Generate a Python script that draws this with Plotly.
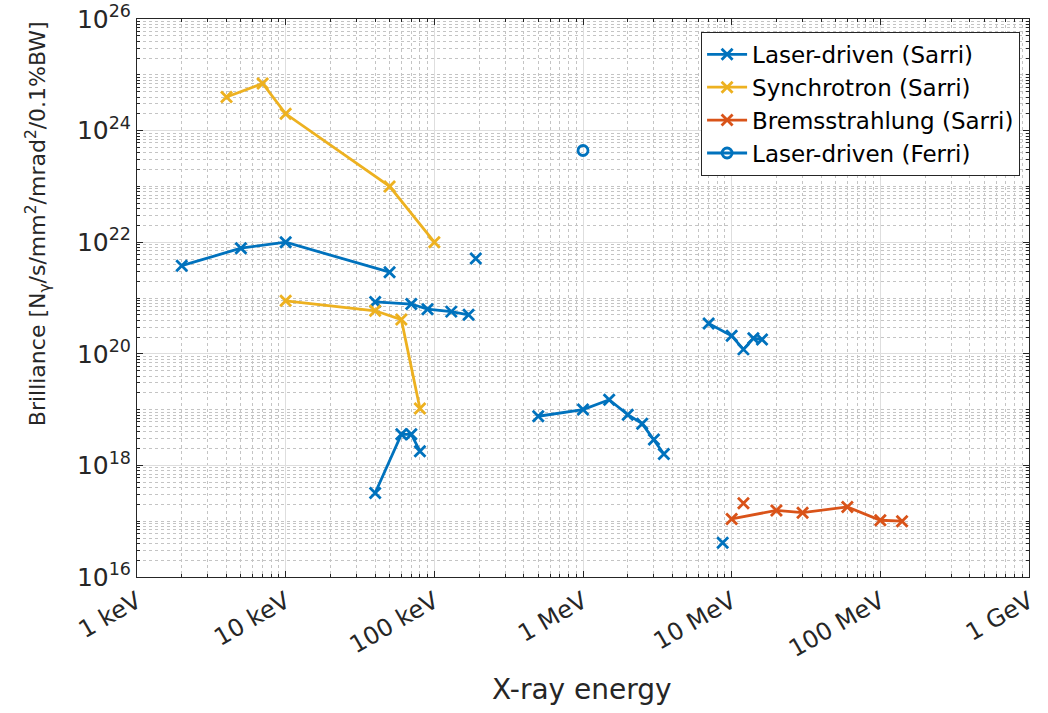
import plotly.graph_objects as go

# ---- data (energies in eV, brilliance in photons/s/mm^2/mrad^2/0.1%BW); None = gap
laser_sarri_E = [2e3, 5e3, 1e4, 5e4, None,
                 1.9e5, None,
                 4e4, 7e4, 9e4, 1.3e5, 1.7e5, None,
                 4e4, 6e4, 7e4, 8e4, None,
                 5e5, 1e6, 1.5e6, 2e6, 2.5e6, 3e6, 3.5e6, None,
                 7e6, 1e7, 1.2e7, 1.4e7, 1.6e7, None,
                 8.7e6]
laser_sarri_B = [3.8e21, 7.8e21, 1e22, 2.9e21, None,
                 5.1e21, None,
                 8.5e20, 7.8e20, 6.3e20, 5.7e20, 5.0e20, None,
                 3.2e17, 3.6e18, 3.6e18, 1.8e18, None,
                 7.6e18, 1.0e19, 1.5e19, 8.1e18, 5.6e18, 2.9e18, 1.6e18, None,
                 3.5e20, 2.1e20, 1.2e20, 1.9e20, 1.8e20, None,
                 4.1e16]

synchrotron_E = [4e3, 7e3, 1e4, 5e4, 1e5, None,
                 1e4, 4e4, 6e4, 8e4]
synchrotron_B = [4e24, 7e24, 2e24, 1e23, 1e22, None,
                 8.9e20, 5.9e20, 4.1e20, 1.05e19]

brems_E = [1e7, 2e7, 3e7, 6e7, 1e8, 1.4e8, None,
           1.2e7]
brems_B = [1.1e17, 1.56e17, 1.42e17, 1.8e17, 1.04e17, 1.0e17, None,
           2.1e17]

ferri_E = [1e6]
ferri_B = [4.4e23]

x_tickvals = [1e3, 1e4, 1e5, 1e6, 1e7, 1e8, 1e9]
x_ticktext = ["1 keV", "10 keV", "100 keV", "1 MeV", "10 MeV", "100 MeV", "1 GeV"]
y_exponents = [16, 18, 20, 22, 24, 26]

x_title = "X-ray energy"
y_title = "Brilliance [N<sub>γ</sub>/s/mm<sup>2</sup>/mrad<sup>2</sup>/0.1%BW]"

BLUE = "#0072BD"
YELLOW = "#EDB120"
ORANGE = "#D95319"
AX = "#262626"
FONT = "DejaVu Sans"

fig = go.Figure()


def add_series(x, y, name, color, symbol, msize):
    fig.add_trace(go.Scatter(
        x=x, y=y, name=name, mode="lines+markers",
        line=dict(color=color, width=2.8),
        marker=dict(symbol=symbol, size=msize, color=color,
                    line=dict(color=color, width=2.8)),
        connectgaps=False,
    ))


add_series(laser_sarri_E, laser_sarri_B, "Laser-driven (Sarri)", BLUE, "x-thin", 11)
add_series(synchrotron_E, synchrotron_B, "Synchrotron (Sarri)", YELLOW, "x-thin", 11)
add_series(brems_E, brems_B, "Bremsstrahlung (Sarri)", ORANGE, "x-thin", 11)
add_series(ferri_E, ferri_B, "Laser-driven (Ferri)", BLUE, "circle-open", 10)

x_minor = [float(m) * 10.0 ** e for e in range(3, 9) for m in range(2, 10)]
y_minor = [float(m) * 10.0 ** e for e in range(16, 26) for m in range(1, 10)
           if not (m == 1 and e % 2 == 0)]

fig.update_layout(
    width=1048, height=713,
    margin=dict(l=137, r=19, t=19, b=136, autoexpand=False),
    paper_bgcolor="white", plot_bgcolor="white",
    font=dict(family=FONT, color=AX),
    showlegend=True,
    legend=dict(
        x=0.99, y=0.977, xanchor="right", yanchor="top",
        bgcolor="white", bordercolor=AX, borderwidth=1,
        font=dict(family=FONT, size=23, color="#000000"),
        tracegroupgap=0, itemwidth=40,
    ),
    xaxis=dict(
        type="log", range=[3, 9], automargin=False,
        tickmode="array", tickvals=x_tickvals, ticktext=x_ticktext,
        tickangle=-30, tickfont=dict(family=FONT, size=24, color=AX),
        ticks="inside", ticklen=6, tickcolor=AX,
        showline=True, linecolor=AX, linewidth=1, mirror="allticks",
        showgrid=True, gridcolor="#dedede", gridwidth=1,
        zeroline=False,
        minor=dict(tickmode="array", tickvals=x_minor, ticks="inside", ticklen=3,
                   tickcolor=AX, showgrid=True, gridcolor="#c4c4c4", griddash="dot", gridwidth=1),
    ),
    yaxis=dict(
        type="log", range=[16, 26], automargin=False,
        tickmode="array", tickvals=[10.0 ** e for e in y_exponents],
        ticktext=["10<sup>%d</sup>" % e for e in y_exponents],
        tickfont=dict(family=FONT, size=25, color=AX),
        ticks="inside", ticklen=6, tickcolor=AX,
        showline=True, linecolor=AX, linewidth=1, mirror="allticks",
        showgrid=True, gridcolor="#dedede", gridwidth=1,
        zeroline=False,
        minor=dict(tickmode="array", tickvals=y_minor, ticks="inside", ticklen=3,
                   tickcolor=AX, showgrid=True, gridcolor="#c4c4c4", griddash="dot", gridwidth=1),
    ),
    annotations=[
        dict(text=x_title, xref="paper", yref="paper", x=0.499, y=-0.2025,
             xanchor="center", yanchor="middle", showarrow=False,
             font=dict(family=FONT, size=28, color=AX)),
        dict(text=y_title, xref="paper", yref="paper", x=-0.111, y=0.634,
             xanchor="center", yanchor="middle", showarrow=False, textangle=-90,
             font=dict(family=FONT, size=22, color=AX)),
    ],
)

fig.write_html("out.html")
